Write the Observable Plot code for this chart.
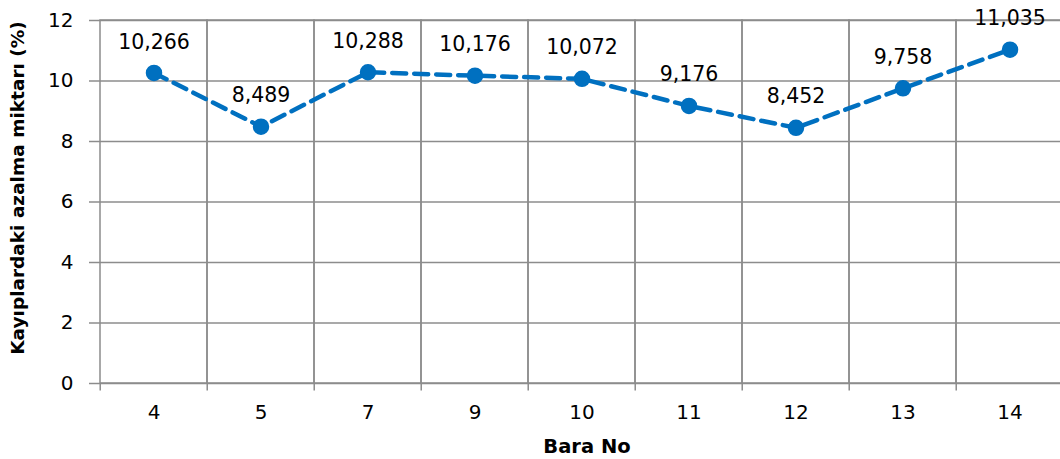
<!DOCTYPE html>
<html><head><meta charset="utf-8">
<script src="https://cdn.jsdelivr.net/npm/d3@7"></script>
<script src="https://cdn.jsdelivr.net/npm/@observablehq/plot@0.6"></script>
<style>body{margin:0;background:#fff;font-family:"DejaVu Sans",sans-serif}</style>
</head><body><div id="chart"></div>
<script>
const categories = ["4","5","7","9","10","11","12","13","14"];
const values = [10.266, 8.489, 10.288, 10.176, 10.072, 9.176, 8.452, 9.758, 11.035];
const valueLabels = ["10,266","8,489","10,288","10,176","10,072","9,176","8,452","9,758","11,035"];
const yTicks = [0, 2, 4, 6, 8, 10, 12];

const data = categories.map((c, i) => ({cat: c, v: values[i], label: valueLabels[i]}));
const xRange = [97, 1065];
const bw = (xRange[1] - xRange[0]) / categories.length;
const blue = "#0070C0";
const grid = "#8c8c8c";

const chart = Plot.plot({
  width: 1060, height: 459,
  marginLeft: 97, marginRight: 0, marginTop: 20, marginBottom: 76,
  style: {fontFamily: "'DejaVu Sans', sans-serif", fontSize: "18px", color: "#000", background: "#fff"},
  x: {type: "band", domain: categories, range: xRange, padding: 0, label: null},
  y: {domain: [0, 12], range: [383, 20], label: null},
  marks: [
    Plot.ruleY(yTicks, {y: d => d, stroke: grid, strokeWidth: 1.5}),
    Plot.barY(categories, {x: d => d, y1: 0, y2: 12, fill: "none", stroke: grid, strokeWidth: 1.5}),
    Plot.ruleX(categories, {x: d => d, y1: 0, y2: -0.25, dx: -bw / 2, stroke: grid, strokeWidth: 1.5}),
    Plot.axisY(yTicks, {tickSize: 8, tickPadding: 16, stroke: grid, strokeWidth: 1.5, fontSize: 20, label: null}),
    Plot.axisX({tickSize: 0, tickPadding: 21, fontSize: 20, label: null}),
    Plot.lineY(data, {x: "cat", y: "v", stroke: blue, strokeWidth: 4.5, strokeDasharray: "14,8"}),
    Plot.dot(data, {x: "cat", y: "v", r: 7.5, fill: blue, stroke: blue}),
    Plot.text(data, {x: "cat", y: "v", text: "label", dy: -31, fontSize: 20.5, fill: "#000"}),
    Plot.text(["Bara No"], {frameAnchor: "bottom", dy: 69, text: d => d, fontWeight: "bold", fontSize: 19.5, dx: 8}),
    Plot.text(["Kayıplardaki azalma miktarı (%)"], {frameAnchor: "left", textAnchor: "middle", dx: -79, dy: -14, rotate: -90, text: d => d, fontWeight: "bold", fontSize: 18.5})
  ]
});
document.getElementById("chart").appendChild(chart);
</script></body></html>
